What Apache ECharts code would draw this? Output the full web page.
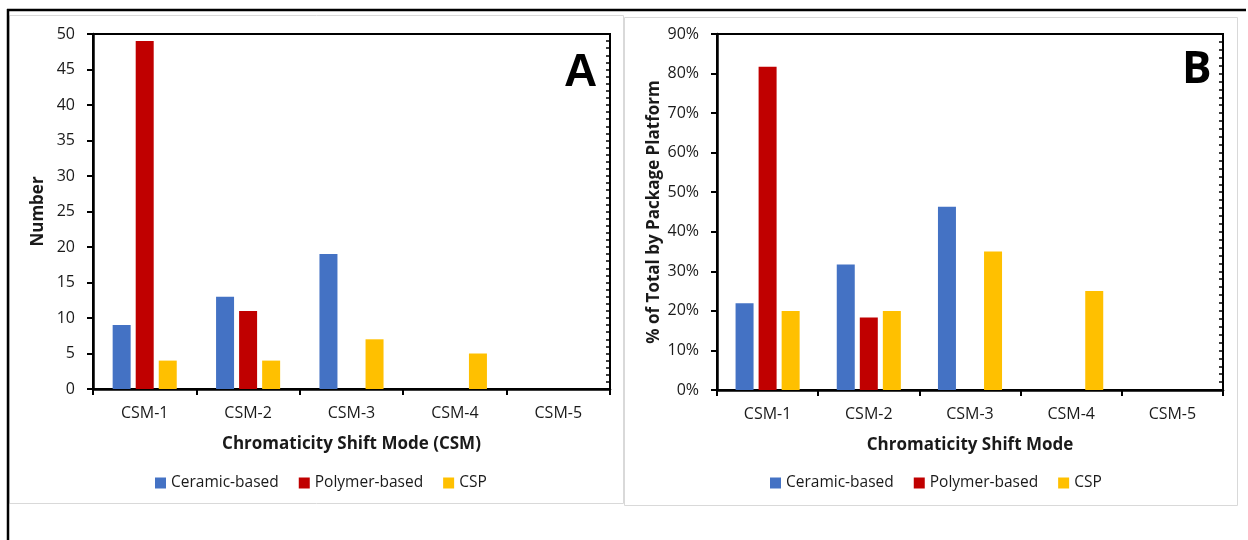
<!DOCTYPE html>
<html>
<head>
<meta charset="utf-8">
<script src="https://cdn.jsdelivr.net/npm/echarts@6/dist/echarts.min.js"></script>
<style>
html,body{margin:0;padding:0;background:#fff;}
#chart{width:1248px;height:540px;}
</style>
</head>
<body>
<div id="chart"></div>
<script>
const categories = ['CSM-1', 'CSM-2', 'CSM-3', 'CSM-4', 'CSM-5'];
const seriesNames = ['Ceramic-based', 'Polymer-based', 'CSP'];
// Panel A: counts
const ceramicCount = [9, 13, 19, 0, 0];
const polymerCount = [49, 11, 0, 0, 0];
const cspCount = [4, 4, 7, 5, 0];
// Panel B: % of total by package platform
const ceramicPct = [21.9, 31.7, 46.3, 0, 0];
const polymerPct = [81.7, 18.3, 0, 0, 0];
const cspPct = [20, 20, 35, 25, 0];
const yTicksA = { min: 0, max: 50, interval: 5 };
const yTicksB = { min: 0, max: 90, interval: 10 };

const colors = ['#4472C4', '#C00000', '#FFC000'];
const FONT = '"Open Sans", "Noto Sans", sans-serif';
const TXT = '#1a1a1a';

const chart = echarts.init(document.getElementById('chart'), null, { renderer: 'canvas' });

function yMain(t, idx, name, gap, fmt) {
  return {
    type: 'value', gridIndex: idx, min: t.min, max: t.max, interval: t.interval,
    name: name, nameLocation: 'middle', nameGap: gap, nameRotate: 90,
    nameTextStyle: { fontFamily: FONT, fontSize: 17, fontWeight: 'bold', color: TXT },
    axisLine: { show: true, lineStyle: { color: '#000', width: 2.5 } },
    axisTick: { show: true, length: 6, lineStyle: { color: '#000', width: 2 } },
    axisLabel: { fontFamily: FONT, fontSize: 16, color: TXT, margin: 18, formatter: fmt },
    splitLine: { show: false }
  };
}
function yMinor(t, idx, step) {
  return {
    type: 'value', gridIndex: idx, min: t.min, max: t.max, interval: step,
    axisLine: { show: false },
    axisTick: { show: true, inside: true, length: 4, lineStyle: { color: '#000', width: 1.5 } },
    axisLabel: { show: false }, splitLine: { show: false }
  };
}
function xAxis(idx, name) {
  return {
    type: 'category', gridIndex: idx, data: categories,
    name: name, nameLocation: 'middle', nameGap: 47,
    nameTextStyle: { fontFamily: FONT, fontSize: 17, fontWeight: 'bold', color: TXT },
    axisLine: { show: true, lineStyle: { color: '#000', width: 2.5 } },
    axisTick: { show: true, length: 6, alignWithLabel: false, lineStyle: { color: '#000', width: 2 } },
    axisLabel: { fontFamily: FONT, fontSize: 16, color: TXT, margin: 16 }
  };
}
function bar(name, data, xi, yi, color) {
  return {
    type: 'bar', name: name, data: data, xAxisIndex: xi, yAxisIndex: yi,
    barWidth: 18, barGap: '28%', itemStyle: { color: color }
  };
}
function legend(left) {
  return { data: seriesNames, left: left, top: 475, padding: 0, itemWidth: 11, itemHeight: 11, itemGap: 20,
    icon: 'rect', textStyle: { fontFamily: FONT, fontSize: 15.5, color: TXT } };
}

const option = {
  animation: false,
  color: colors,
  grid: [
    { left: 93, top: 34, width: 517, height: 355, show: true, borderColor: '#000', borderWidth: 2, backgroundColor: 'transparent' },
    { left: 717, top: 34, width: 506, height: 356, show: true, borderColor: '#000', borderWidth: 2, backgroundColor: 'transparent' }
  ],
  xAxis: [xAxis(0, 'Chromaticity Shift Mode (CSM)'), xAxis(1, 'Chromaticity Shift Mode')],
  yAxis: [
    yMain(yTicksA, 0, 'Number', 46, '{value}'),
    yMinor(yTicksA, 0, 1),
    yMain(yTicksB, 1, '% of Total by Package Platform', 54, '{value}%'),
    yMinor(yTicksB, 1, 2)
  ],
  legend: [legend(155), legend(770)],
  series: [
    bar(seriesNames[0], ceramicCount, 0, 0, colors[0]),
    bar(seriesNames[1], polymerCount, 0, 0, colors[1]),
    bar(seriesNames[2], cspCount, 0, 0, colors[2]),
    bar(seriesNames[0], ceramicPct, 1, 2, colors[0]),
    bar(seriesNames[1], polymerPct, 1, 2, colors[1]),
    bar(seriesNames[2], cspPct, 1, 2, colors[2])
  ],
  graphic: [
    { type: 'rect', z: -1, shape: { x: 9.5, y: 15.5, width: 614, height: 488 }, style: { fill: 'none', stroke: '#d9d9d9', lineWidth: 1 } },
    { type: 'rect', z: -1, shape: { x: 624.5, y: 17.5, width: 613, height: 488 }, style: { fill: 'none', stroke: '#d9d9d9', lineWidth: 1 } },
    { type: 'line', shape: { x1: 7, y1: 10, x2: 1246, y2: 10 }, style: { stroke: '#000', lineWidth: 2.5 } },
    { type: 'line', shape: { x1: 8, y1: 9, x2: 8, y2: 540 }, style: { stroke: '#000', lineWidth: 2.5 } },
    { type: 'text', left: 564, top: 50, style: { text: 'A', fontFamily: '"Liberation Sans", Arial, sans-serif', fontWeight: 'bold', fontSize: 46, fill: '#000' } },
    { type: 'text', left: 1182, top: 48, style: { text: 'B', fontFamily: FONT, fontWeight: 'bold', fontSize: 44, fill: '#000' } }
  ]
};
chart.setOption(option);
</script>
</body>
</html>
